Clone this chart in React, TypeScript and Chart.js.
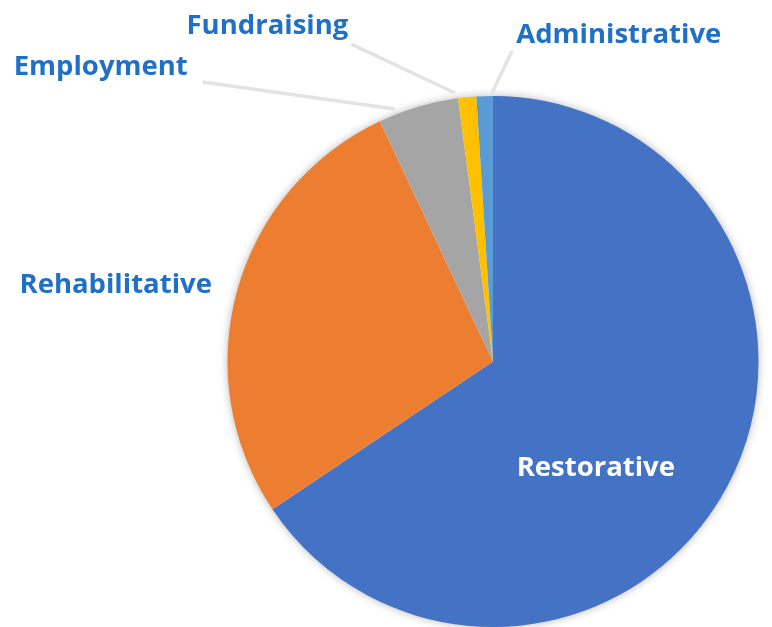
import React, { useEffect, useRef } from "react";
import { Chart, registerables } from "chart.js";

Chart.register(...registerables);

const categories = ["Restorative", "Rehabilitative", "Employment", "Fundraising", "Administrative"];
const shares = [65.6, 27.4, 4.9, 1.1, 1.0];
const sliceColors = ["#4472C4", "#ED7D31", "#A5A5A5", "#FFC000", "#5B9BD5"];

// label styling (offsets from pie centre, in px at radius 266; baseline y)
const labelOffsets: [number, number][] = [
  [103, 115],
  [-378, -69],
  [-393, -287],
  [-226, -328],
  [126, -319],
];
const labelColors = ["#FFFFFF", "#2070C8", "#2070C8", "#2070C8", "#2070C8"];
const leaderLines: ([number, number, number, number] | null)[] = [
  null,
  null,
  [-291, -280, -98, -253],
  [-142, -318, -38, -269],
  [19, -311, -1, -269],
];

const labelPlugin = {
  id: "customLabels",
  beforeDatasetsDraw(chart: any) {
    const meta = chart.getDatasetMeta(0);
    const arc = meta.data[0];
    if (!arc) return;
    const ctx = chart.ctx;
    ctx.save();
    ctx.shadowColor = "rgba(0,0,0,0.35)";
    ctx.shadowBlur = 10;
    ctx.fillStyle = "#ffffff";
    ctx.beginPath();
    ctx.arc(arc.x, arc.y, arc.outerRadius - 1, 0, Math.PI * 2);
    ctx.fill();
    ctx.restore();
  },
  afterDatasetsDraw(chart: any) {
    const meta = chart.getDatasetMeta(0);
    const arc = meta.data[0];
    if (!arc) return;
    const cx = arc.x;
    const cy = arc.y;
    const s = arc.outerRadius / 266;
    const ctx = chart.ctx;
    ctx.save();
    ctx.strokeStyle = "#E3E3E3";
    ctx.lineWidth = 3.5;
    ctx.lineCap = "butt";
    leaderLines.forEach((l) => {
      if (!l) return;
      ctx.beginPath();
      ctx.moveTo(cx + l[0] * s, cy + l[1] * s);
      ctx.lineTo(cx + l[2] * s, cy + l[3] * s);
      ctx.stroke();
    });
    ctx.font = "bold 27.5px 'Open Sans'";
    ctx.textAlign = "center";
    ctx.textBaseline = "alphabetic";
    categories.forEach((c, i) => {
      const [dx, dy] = labelOffsets[i];
      ctx.fillStyle = labelColors[i];
      ctx.fillText(c, cx + dx * s, cy + dy * s);
    });
    ctx.restore();
  },
};

export default function App() {
  const ref = useRef<HTMLCanvasElement | null>(null);
  useEffect(() => {
    document.body.style.margin = "0";
    if (!ref.current) return;
    const chart = new Chart(ref.current, {
      type: "pie",
      data: {
        labels: categories,
        datasets: [
          {
            data: shares,
            backgroundColor: sliceColors,
            borderWidth: 0,
          },
        ],
      },
      options: {
        responsive: false,
        animation: false,
        layout: { padding: { left: 227, right: 13, top: 96, bottom: 0 } },
        plugins: {
          legend: { display: false },
          tooltip: { enabled: false },
        },
      },
      plugins: [labelPlugin],
    });
    return () => chart.destroy();
  }, []);
  return (
    <div style={{ width: 772, height: 627, background: "#fff" }}>
      <canvas ref={ref} width={772} height={627} style={{ display: "block" }} />
    </div>
  );
}
